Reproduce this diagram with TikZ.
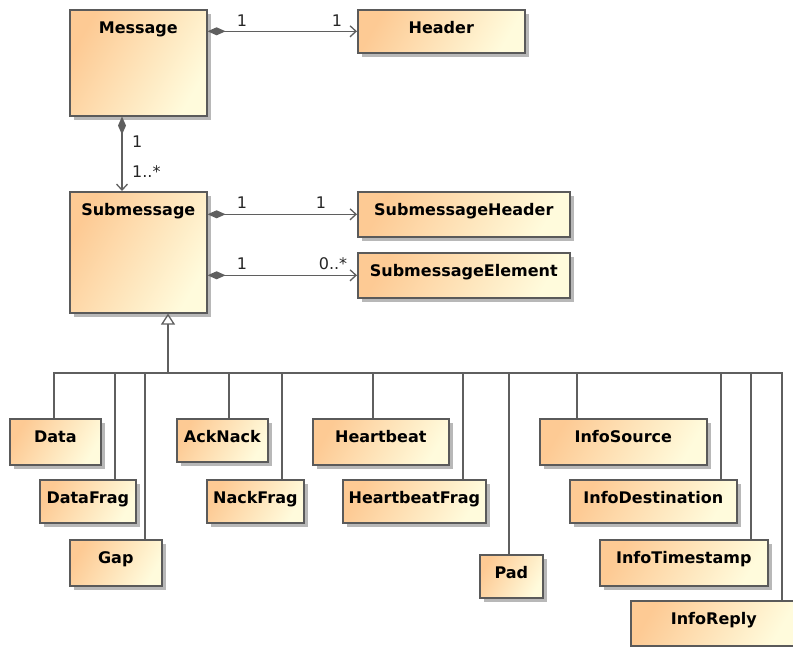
\documentclass[tikz,border=0pt]{standalone}
\usepackage{fontspec}
\setmainfont{DejaVu Sans}
\usetikzlibrary{arrows.meta,shadows}
\definecolor{boxorange}{RGB}{253,202,148}
\definecolor{boxyellow}{RGB}{255,251,220}
\definecolor{edgegray}{RGB}{90,90,90}
\definecolor{linegray}{RGB}{95,95,95}
\begin{document}
\begin{tikzpicture}[x=1pt,y=-1pt,
  cls/.style={draw=edgegray, line width=1.6pt, left color=boxorange, right color=boxyellow, shading angle=60,
    drop shadow={shadow xshift=4pt, shadow yshift=-4pt, fill=black!35, opacity=0.8},
    anchor=north west, inner sep=0pt, text height=23.5pt, font=\fontsize{16}{18}\selectfont\bfseries},
  conn/.style={draw=linegray, line width=1.3pt},
  comp/.style={conn, {Diamond[length=18pt,width=8pt,fill=linegray]}-{Straight Barb[length=6pt,width=11pt]}},
  gen/.style={conn, -{Triangle[open,length=11pt,width=14pt,fill=white]}},
  mult/.style={font=\fontsize{16}{18}\selectfont, anchor=base, inner sep=0pt, text=black!85}
]
\useasboundingbox (0,0) rectangle (793,647);

\node[cls, minimum width=137pt, text depth=82.5pt] (msg) at (69,9) {Message};
\node[cls, minimum width=167pt, text depth=19.5pt] (hdr) at (357,9) {Header};
\node[cls, minimum width=137pt, text depth=97.5pt] (sub) at (69,191) {Submessage};
\node[cls, minimum width=212pt, text depth=21.5pt] (subhdr) at (357,191) {SubmessageHeader};
\node[cls, minimum width=212pt, text depth=21.5pt] (subel) at (357,252) {SubmessageElement};

\node[cls, minimum width=91pt, text depth=22.5pt] (data) at (9,418) {Data};
\node[cls, minimum width=96pt, text depth=19.5pt] (datafrag) at (39,479) {DataFrag};
\node[cls, minimum width=92pt, text depth=22.5pt] (gap) at (69,539) {Gap};
\node[cls, minimum width=91pt, text depth=19.5pt] (acknack) at (176,418) {AckNack};
\node[cls, minimum width=97pt, text depth=19.5pt] (nackfrag) at (206,479) {NackFrag};
\node[cls, minimum width=136pt, text depth=22.5pt] (hb) at (312,418) {Heartbeat};
\node[cls, minimum width=143pt, text depth=19.5pt] (hbfrag) at (342,479) {HeartbeatFrag};
\node[cls, minimum width=63pt, text depth=19.5pt] (pad) at (479,554) {Pad};
\node[cls, minimum width=167pt, text depth=22.5pt] (isrc) at (539,418) {InfoSource};
\node[cls, minimum width=167pt, text depth=19.5pt] (idst) at (569,479) {InfoDestination};
\node[cls, minimum width=168pt, text depth=22.5pt] (its) at (599,539) {InfoTimestamp};
\node[cls, minimum width=166pt, text depth=21.5pt] (irep) at (630,600) {InfoReply};

% compositions
\draw[comp] (msg.east |- hdr.west) -- (hdr.west);
\node[mult] (m1) at (242,27) {1};
\node[mult] (m2) at (337,27) {1};

\draw[comp] ([xshift=53pt]msg.south west) -- ([xshift=53pt]sub.north west);
\node[mult, anchor=base west] (m3) at (132,148) {1};
\node[mult, anchor=base west] (m4) at (132,178) {1..*};

\draw[comp] (sub.east |- subhdr.west) -- (subhdr.west);
\node[mult] (m5) at (242,209) {1};
\node[mult] (m6) at (321,209) {1};

\draw[comp] (sub.east |- subel.west) -- (subel.west);
\node[mult] (m7) at (242,270) {1};
\node[mult] (m8) at (333,270) {0..*};

% generalization tree
\coordinate (bus) at (168,373);
\draw[gen] (bus) -- (bus |- sub.south);
\draw[conn] ([xshift=45pt]data.north west) |- (bus);
\draw[conn] ([xshift=76pt]datafrag.north west) |- (bus);
\draw[conn] ([xshift=76pt]gap.north west) |- (bus);
\draw[conn] ([xshift=53pt]acknack.north west) |- (bus);
\draw[conn] ([xshift=76pt]nackfrag.north west) |- (bus);
\draw[conn] ([xshift=61pt]hb.north west) |- (bus);
\draw[conn] ([xshift=121pt]hbfrag.north west) |- (bus);
\draw[conn] ([xshift=30pt]pad.north west) |- (bus);
\draw[conn] ([xshift=38pt]isrc.north west) |- (bus);
\draw[conn] ([xshift=152pt]idst.north west) |- (bus);
\draw[conn] ([xshift=152pt]its.north west) |- (bus);
\draw[conn] ([xshift=152pt]irep.north west) |- (bus);
\end{tikzpicture}
\end{document}
